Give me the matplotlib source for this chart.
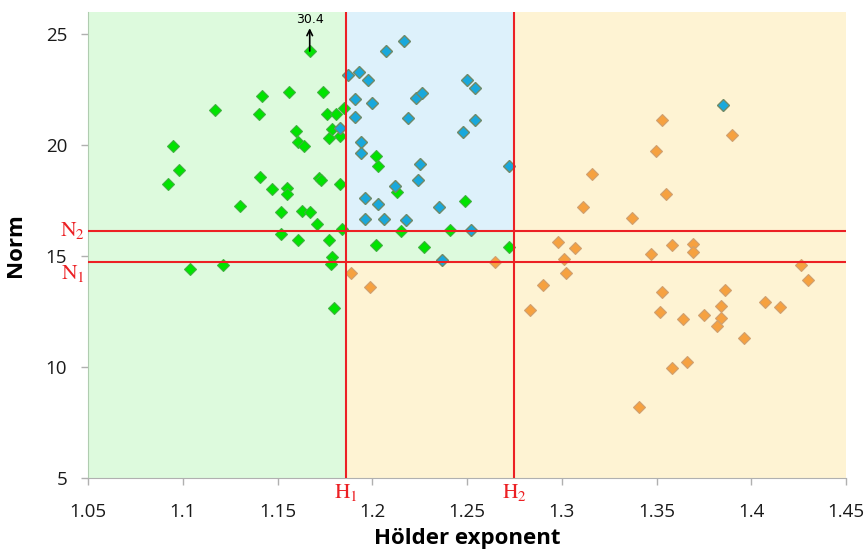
import numpy as np
import matplotlib
matplotlib.use("Agg")
import matplotlib.pyplot as plt
from matplotlib.ticker import FuncFormatter

# Hölder exponent / norm pairs for the three groups
green_x = [1.167, 1.142, 1.156, 1.174, 1.117, 1.140, 1.176, 1.181, 1.185, 1.160,
           1.161, 1.164, 1.177, 1.179, 1.183, 1.095, 1.098, 1.092, 1.141, 1.147,
           1.155, 1.155, 1.172, 1.173, 1.183, 1.130, 1.152, 1.163, 1.167, 1.171,
           1.184, 1.152, 1.161, 1.177, 1.104, 1.121, 1.179, 1.178, 1.180, 1.202,
           1.202, 1.203, 1.213, 1.249, 1.215, 1.241, 1.2275, 1.272]
green_y = [30.4, 22.21, 22.39, 22.39, 21.58, 21.42, 21.39, 21.42, 21.66, 20.64,
           20.15, 19.95, 20.34, 20.73, 20.42, 19.95, 18.87, 18.24, 18.57, 18.02,
           18.09, 17.80, 18.54, 18.42, 18.27, 17.26, 16.97, 17.01, 16.97, 16.44,
           16.22, 16.00, 15.73, 15.73, 14.42, 14.62, 14.95, 14.65, 12.67, 15.50,
           19.50, 19.05, 17.87, 17.49, 16.15, 16.18, 15.43, 15.43]

blue_x = [1.217, 1.207, 1.187, 1.193, 1.198, 1.250, 1.254, 1.191, 1.200, 1.223,
          1.226, 1.191, 1.219, 1.254, 1.248, 1.183, 1.194, 1.194, 1.225, 1.272,
          1.224, 1.212, 1.196, 1.203, 1.235, 1.196, 1.206, 1.218, 1.252, 1.237,
          1.385]
blue_y = [24.69, 24.24, 23.14, 23.31, 22.92, 22.92, 22.57, 22.07, 21.92, 22.11,
          22.36, 21.27, 21.22, 21.13, 20.61, 20.76, 20.16, 19.64, 19.13, 19.04,
          18.44, 18.14, 17.60, 17.35, 17.20, 16.69, 16.69, 16.61, 16.18, 14.84,
          21.79]

orange_x = [1.189, 1.199, 1.265, 1.290, 1.283, 1.353, 1.390, 1.350, 1.316, 1.355,
            1.311, 1.337, 1.298, 1.307, 1.301, 1.302, 1.347, 1.358, 1.369, 1.369,
            1.426, 1.430, 1.353, 1.386, 1.352, 1.364, 1.375, 1.384, 1.384, 1.382,
            1.407, 1.415, 1.396, 1.358, 1.366, 1.341]
orange_y = [14.23, 13.60, 14.75, 13.69, 12.55, 21.13, 20.45, 19.74, 18.69, 17.78,
            17.21, 16.70, 15.62, 15.38, 14.86, 14.26, 15.08, 15.50, 15.55, 15.19,
            14.60, 13.93, 13.40, 13.49, 12.47, 12.15, 12.36, 12.76, 12.20, 11.84,
            12.91, 12.70, 11.32, 9.97, 10.21, 8.21]

# thresholds
H1, H2 = 1.186, 1.275
N1, N2 = 14.75, 16.15

XMIN, XMAX = 1.05, 1.45
YMIN, YMAX = 5, 26
Y_CAP = 24.24   # values above this are drawn at the cap with an arrow

plt.rcParams['font.family'] = ['Open Sans', 'DejaVu Sans']
plt.rcParams['mathtext.fontset'] = 'stix'

fig = plt.figure(figsize=(8.68, 5.59), dpi=100)
ax = fig.add_axes([88 / 868, 1 - 478 / 559, 758 / 868, 466 / 559])
ax.set_xlim(XMIN, XMAX)
ax.set_ylim(YMIN, YMAX)

# coloured regions
c_green, c_blue, c_cream = '#ddfadd', '#ddf1fb', '#fef3d3'
ax.axvspan(XMIN, H1, color=c_green, lw=0, zorder=0)
ax.axvspan(H2, XMAX, color=c_cream, lw=0, zorder=0)
ax.fill_between([H1, H2], N2, YMAX, color=c_blue, lw=0, zorder=0)
ax.fill_between([H1, H2], N1, N2, color=c_green, lw=0, zorder=0)
ax.fill_between([H1, H2], YMIN, N1, color=c_cream, lw=0, zorder=0)

gy = np.minimum(np.array(green_y), Y_CAP)
ax.plot(green_x, gy, 'D', ms=6.4, mfc='#00e400', mec='#40b040', mew=0.8, zorder=2)
ax.plot(orange_x, orange_y, 'D', ms=6.4, mfc='#f6a140', mec='#cfa070', mew=0.8, zorder=2)
ax.plot(blue_x, blue_y, 'D', ms=6.4, mfc='#18a8dc', mec='#708a68', mew=1.0, zorder=2)

# threshold lines
red = '#ec2024'
for h in (H1, H2):
    ax.axvline(h, color=red, lw=1.5, zorder=3)
for n in (N1, N2):
    ax.axhline(n, color=red, lw=1.5, zorder=3)

# off-scale point
for x, y in zip(green_x, green_y):
    if y > Y_CAP:
        ax.annotate('', xy=(x, 25.27), xytext=(x, Y_CAP),
                    arrowprops=dict(arrowstyle='->', lw=1.2, color='black',
                                    shrinkA=0, shrinkB=0), zorder=4)
        ax.text(x, 25.38, f'{y:g}', ha='center', va='bottom', fontsize=9,
                family='DejaVu Sans', zorder=4)

# threshold labels
ax.text(-0.004, N2, r'$\mathrm{N}_2$', transform=ax.get_yaxis_transform(),
        ha='right', va='center', color=red, fontsize=15.5, clip_on=False)
ax.text(-0.004, N1 - 0.05, r'$\mathrm{N}_1$', transform=ax.get_yaxis_transform(),
        ha='right', va='top', color=red, fontsize=15.5, clip_on=False)
ax.text(H1, -0.008, r'$\mathrm{H}_1$', transform=ax.get_xaxis_transform(),
        ha='center', va='top', color=red, fontsize=15.5, clip_on=False)
ax.text(H2, -0.008, r'$\mathrm{H}_2$', transform=ax.get_xaxis_transform(),
        ha='center', va='top', color=red, fontsize=15.5, clip_on=False)

ax.set_xticks(np.arange(1.05, 1.4501, 0.05))
ax.set_yticks([5, 10, 15, 20, 25])
ax.xaxis.set_major_formatter(FuncFormatter(lambda v, p: f'{round(v, 2):g}'))
ax.tick_params(axis='both', labelsize=13.5, length=5, width=1, color='#b0b0b0',
               labelcolor='#1a1a1a')
ax.tick_params(axis='x', pad=13)
ax.tick_params(axis='y', pad=10)

for s in ('top', 'right'):
    ax.spines[s].set_visible(False)
ax.spines['left'].set_color('#b0ccb0')
ax.spines['bottom'].set_color('#b0b0b0')

ax.set_xlabel('Hölder exponent', fontsize=16, fontweight='bold', labelpad=5)
ax.set_ylabel('Norm', fontsize=16, fontweight='bold', labelpad=14)

fig.savefig('out.png', dpi=100)
